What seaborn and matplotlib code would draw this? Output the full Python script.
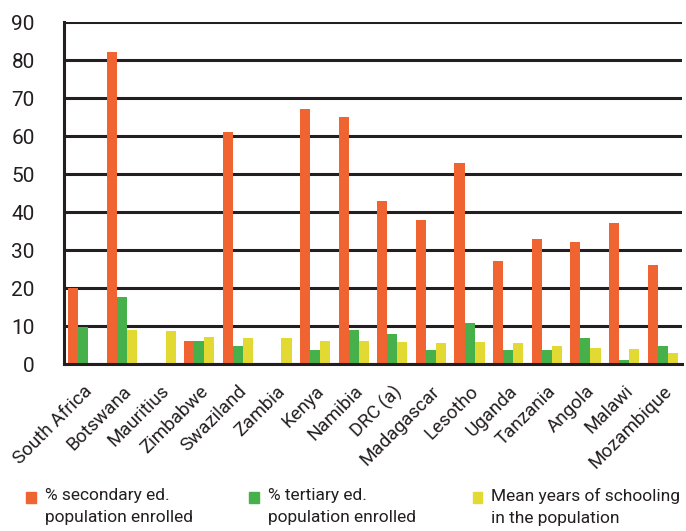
import numpy as np
import pandas as pd
import matplotlib
matplotlib.use("Agg")
import matplotlib.pyplot as plt
import seaborn as sns
from matplotlib.ticker import FixedLocator

countries = ["South Africa", "Botswana", "Mauritius", "Zimbabwe", "Swaziland",
             "Zambia", "Kenya", "Namibia", "DRC (a)", "Madagascar", "Lesotho",
             "Uganda", "Tanzania", "Angola", "Malawi", "Mozambique"]
secondary = [20, 82, np.nan, 6, 61, np.nan, 67, 65, 43, 38, 53, 27, 33, 32, 37, 26]
tertiary = [9.7, 17.7, np.nan, 6, 4.8, np.nan, 3.8, 9, 8, 3.8, 10.9, 3.8, 3.8, 6.9, 1.1, 4.8]
schooling = [np.nan, 9.0, 8.8, 7.2, 6.9, 6.9, 6.1, 6.1, 5.9, 5.6, 5.9, 5.6, 4.8, 4.3, 4.0, 3.0]
series_labels = ["% secondary ed.\npopulation enrolled",
                 "% tertiary ed.\npopulation enrolled",
                 "Mean years of schooling\nin the population"]
colors = ["#F06432", "#46B04A", "#E3D933"]
ink = "#231f20"

df = pd.DataFrame({"country": countries * 3,
                   "value": secondary + tertiary + schooling,
                   "series": np.repeat(series_labels, len(countries))})

sns.set_style("white")
plt.rcParams["font.family"] = ["Roboto", "DejaVu Sans"]

W, H = 686, 531
fig = plt.figure(figsize=(W / 100, H / 100), dpi=100)
ax = fig.add_axes([64 / W, 1 - 364 / H, (682 - 64) / W, (364 - 22) / H])

sns.barplot(data=df, x="country", y="value", hue="series", order=countries,
            hue_order=series_labels, palette=colors, width=0.78, gap=0,
            saturation=1, linewidth=0, ax=ax, legend=False, zorder=3)

ax.set_ylim(0, 90)
ax.set_xlim(-0.5, len(countries) - 0.5)
ax.set_yticks(range(0, 91, 10))
ax.yaxis.grid(True, color=ink, linewidth=2.2, zorder=0)
ax.set_axisbelow(True)
for s in ["top", "right"]:
    ax.spines[s].set_visible(False)
for s in ["left", "bottom"]:
    ax.spines[s].set_color(ink)
    ax.spines[s].set_linewidth(2.2)
    ax.spines[s].set_zorder(4)

ax.tick_params(axis="y", length=8, width=2.2, color=ink,
               labelsize=15, labelcolor=ink, pad=13)
ax.tick_params(axis="x", which="major", length=0, labelsize=13.5,
               labelcolor=ink, pad=13)
ax.xaxis.set_minor_locator(FixedLocator(np.arange(-0.5, len(countries), 1)))
ax.tick_params(axis="x", which="minor", length=8, width=2.2, color=ink)
ax.set_xlabel("")
ax.set_ylabel("")
for lbl in ax.get_xticklabels():
    lbl.set_rotation(45)
    lbl.set_ha("right")
    lbl.set_rotation_mode("anchor")

# legend along the bottom: a small square beside each two-line label
marker_x = [26, 249, 473]
text_x = [45, 268, 491]
for mx, tx, col, lab in zip(marker_x, text_x, colors, series_labels):
    fig.patches.append(plt.Rectangle((mx / W, 1 - 503 / H), 9.5 / W, 11 / H,
                                     color=col, transform=fig.transFigure,
                                     figure=fig))
    fig.text(tx / W, 1 - 488 / H, lab, ha="left", va="top", fontsize=12.5,
             color=ink, linespacing=1.55)

fig.savefig("out.png", dpi=100, facecolor="white")
